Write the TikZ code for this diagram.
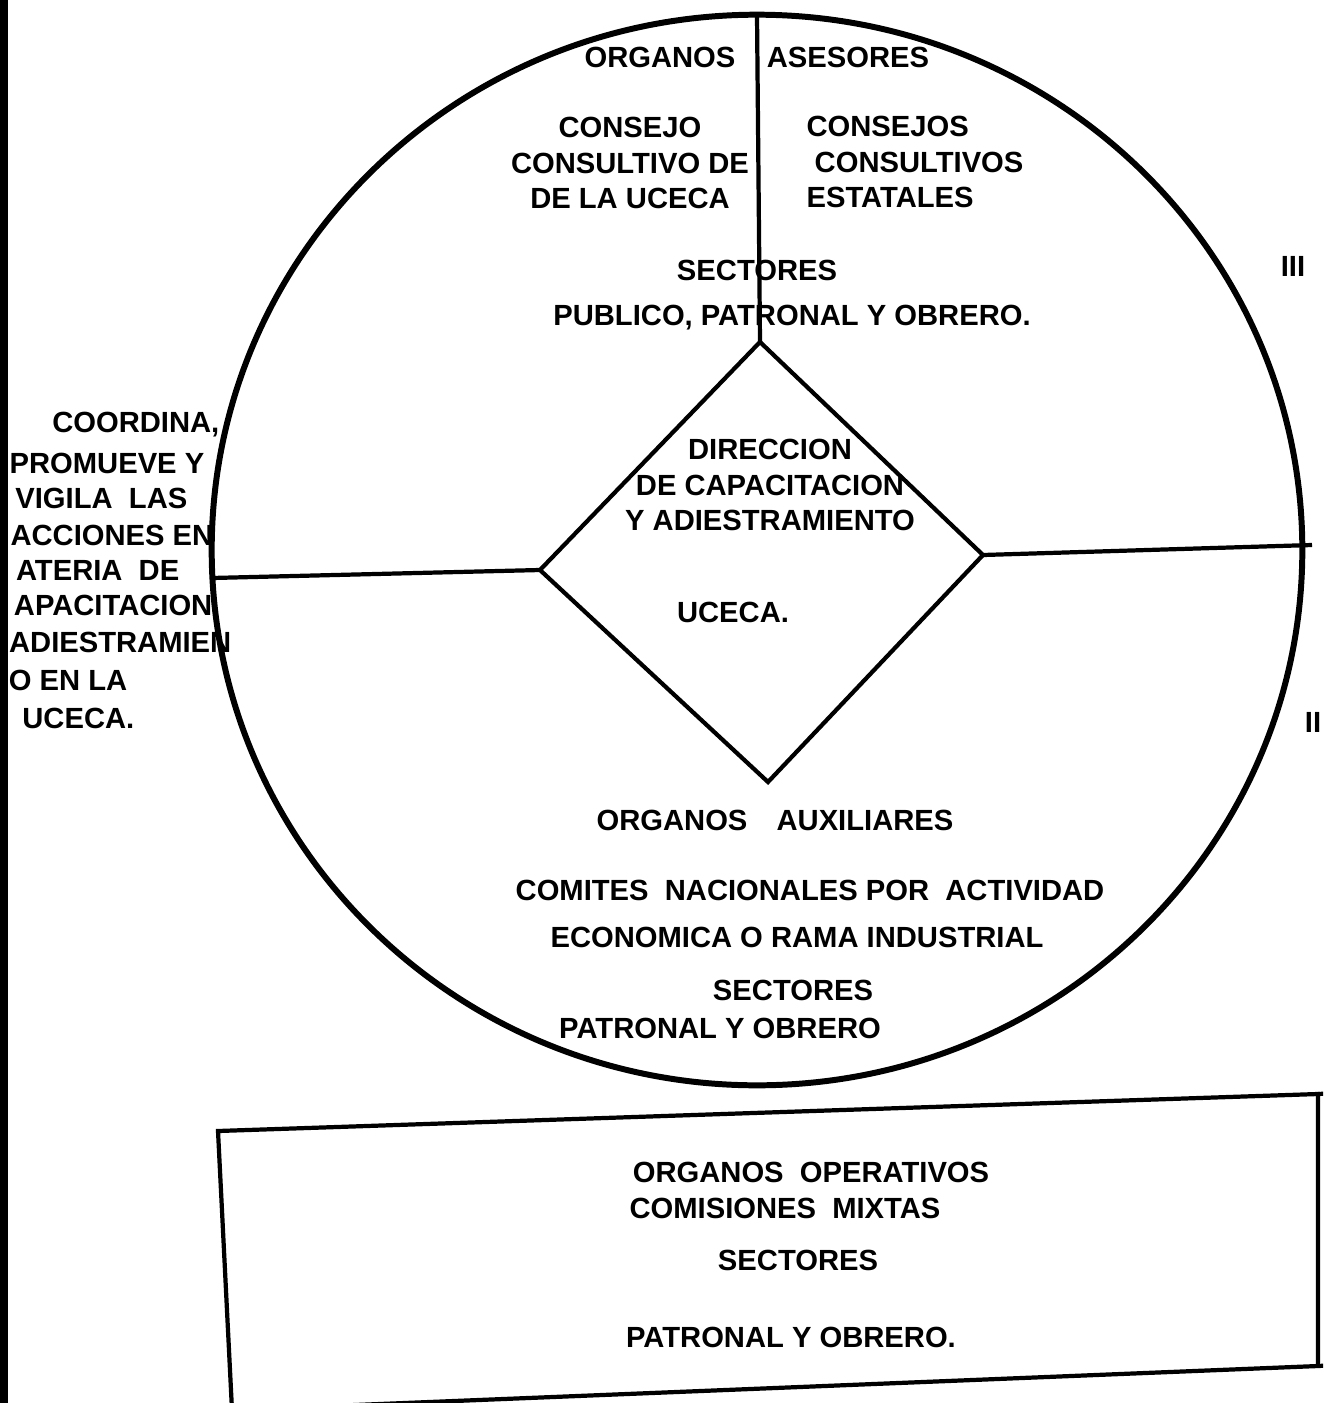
\documentclass[tikz,border=0pt]{standalone}
\usepackage{fontspec}
\setmainfont{Liberation Sans}

\begin{document}
\begin{tikzpicture}[x=0.01cm,y=-0.01cm,
  lbl/.style={font=\bfseries\fontsize{8.3}{10}\selectfont, inner sep=0pt},
  rim/.style={line width=1.7pt},
  edgeline/.style={line width=1.2pt}]
\useasboundingbox (0,0) rectangle (1323,1403);
\clip (0,0) rectangle (1323,1403);

% binding edge of the scan
\fill[black] (0,0) rectangle (8,1403);

% outer circle
\draw[rim] (757,550) ellipse [x radius=5.45cm, y radius=5.35cm];
\coordinate (cT) at (757,15);
\coordinate (cL) at (212,578);
\coordinate (cR) at (1312,545);

% diamond
\coordinate (dT) at (760,342);
\coordinate (dR) at (983,555);
\coordinate (dB) at (768,782);
\coordinate (dL) at (540,570);
\draw[edgeline] (dT) -- (dR) -- (dB) -- (dL) -- cycle;

\draw[edgeline] (cT) -- (dT);
\draw[edgeline] (cL) -- (dL);
\draw[edgeline] (dR) -- (cR);

% upper part
\node[lbl] (orgA) at (660,57) {ORGANOS};
\node[lbl] (ases) at (848,57) {ASESORES};
\node[lbl, align=center] (consejo) at (630,163) {CONSEJO\\CONSULTIVO DE\\DE LA UCECA};
\node[lbl, align=left] (consejos) at (915,162) {CONSEJOS\\\ CONSULTIVOS\\ESTATALES};
\node[lbl] (sec1) at (757,270) {SECTORES};
\node[lbl] (pub) at (792,318) {PUBLICO, PATRONAL Y OBRERO.};

% diamond text
\node[lbl, align=center] (dir) at (770,485) {DIRECCION\\DE CAPACITACION\\Y ADIESTRAMIENTO};
\node[lbl] (uceca) at (733,612) {UCECA.};

% lower part
\node[lbl] (orgB) at (775,820) {ORGANOS\quad AUXILIARES};
\node[lbl] (comites) at (810,890) {COMITES\ \ NACIONALES POR\ \ ACTIVIDAD};
\node[lbl] (econ) at (797,937) {ECONOMICA O RAMA INDUSTRIAL};
\node[lbl] (sec2) at (793,990) {SECTORES};
\node[lbl] (pat1) at (720,1028) {PATRONAL Y OBRERO};

% roman numerals at the right
\node[lbl] (n3) at (1293,266) {III};
\node[lbl] (n2) at (1313,722) {II};

% left text, as far as the scan shows it
\foreach \t/\x/\y [count=\i] in {{COORDINA,}/220/425, PROMUEVE Y/205/463,
    VIGILA\ \ LAS/188/498, ACCIONES EN/214/535, ATERIA\ \ DE/180/570,
    APACITACION/213/605, ADIESTRAMIEN/232/642, O EN LA/128/680,
    UCECA./135/718}
  \node[lbl, anchor=east] (left\i) at (\x,\y) {\t};

% box of the operative organs
\coordinate (bTL) at (218,1131);
\coordinate (bTR) at (1318,1094);
\coordinate (bBR) at (1318,1366);
\coordinate (bBL) at (232,1410);
\draw[edgeline] (bBL) -- (bTL) -- (bTR) -- (bBR);
\draw[edgeline] (bTR) -- ++(20,-1);
\draw[edgeline] (bBL) -- (bBR) -- ++(20,-1);

\node[lbl] (orgC) at (811,1172) {ORGANOS\ \ OPERATIVOS};
\node[lbl] (comis) at (785,1208) {COMISIONES\ \ MIXTAS};
\node[lbl] (sec3) at (798,1260) {SECTORES};
\node[lbl] (pat2) at (791,1337) {PATRONAL Y OBRERO.};
\end{tikzpicture}
\end{document}
